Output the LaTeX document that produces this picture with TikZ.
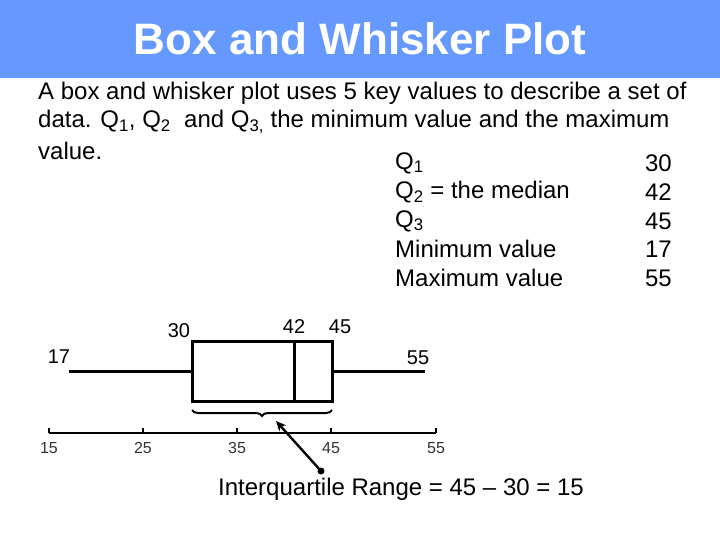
\documentclass[tikz,border=0pt]{standalone}
\usepackage{fontspec}
\setmainfont{Liberation Sans}
\usetikzlibrary{decorations.pathreplacing,arrows.meta}
\definecolor{titlebar}{HTML}{6699FF}
\begin{document}
\begin{tikzpicture}[x=1pt,y=-1pt,
  body/.style={font=\fontsize{24}{28}\selectfont,inner sep=0pt},
  lab/.style={font=\fontsize{20}{22}\selectfont,inner sep=0pt},
  ax/.style={font=\fontsize{16}{18}\selectfont,inner sep=0pt,text=black!80},
  thick2/.style={line width=3pt}]
\useasboundingbox (0,0) rectangle (720,540);
\fill[titlebar] (0,0) rectangle (720,78);
\node[font=\fontsize{44}{48}\selectfont\bfseries,text=white] (title) at (360,39) {Box and Whisker Plot};
\node[body,anchor=west] (l1) at (38,93) {A box and whisker plot uses 5 key values to describe a set of};
\node[body,anchor=west] (l2) at (38,122) {data. Q\textsubscript{1}, Q\textsubscript{2}\ \ and Q\textsubscript{3,} the minimum value and the maximum};
\node[body,anchor=west] (l3) at (38,151) {value.};
\node[body,anchor=west] (r1) at (395,163) {Q\textsubscript{1}};
\node[body,anchor=west] (r2) at (395,192) {Q\textsubscript{2} = the median};
\node[body,anchor=west] (r3) at (395,221) {Q\textsubscript{3}};
\node[body,anchor=west] (r4) at (395,249) {Minimum value};
\node[body,anchor=west] (r5) at (395,278) {Maximum value};
\node[body,anchor=east] (v1) at (672,163) {30};
\node[body,anchor=east] (v2) at (672,192) {42};
\node[body,anchor=east] (v3) at (672,221) {45};
\node[body,anchor=east] (v4) at (672,249) {17};
\node[body,anchor=east] (v5) at (672,278) {55};
% box plot
\coordinate (wl) at (69,371); \coordinate (wr) at (425,371);
\coordinate (bl) at (192,371); \coordinate (br) at (332,371);
\draw[thick2] (wl) -- (bl);
\draw[thick2] (br) -- (wr);
\draw[thick2] (192,341) rectangle (332,401);
\draw[thick2] (294,341) -- (294,401);
\node[lab] (n30) at (179,331) {30};
\node[lab] (n42) at (294,327) {42};
\node[lab] (n45) at (340,327) {45};
\node[lab] (n17) at (59,357) {17};
\node[lab] (n55) at (418,358) {55};
% axis
\draw[line width=2.4pt] (49,433) -- (436,433);
\foreach \x/\t in {49/15,143/25,237/35,331/45,436/55}{
  \draw[line width=2.4pt] (\x,433) -- (\x,428);
  \node[ax] at (\x,448) {\t};
}
% brace
\draw[line width=2pt,decorate,decoration={brace,amplitude=6pt,mirror,raise=0pt}] (192,410) -- (332,410);
\coordinate (tip) at (276,421);
\coordinate (dot) at (321,471);
\draw[line width=2.4pt,-{Stealth[length=10pt,width=9pt]}] (dot) -- (tip);
\fill (dot) circle (3.5pt);
\node[body,anchor=west] (iqr) at (218,489) {Interquartile Range = 45 – 30 = 15};
\end{tikzpicture}
\end{document}
